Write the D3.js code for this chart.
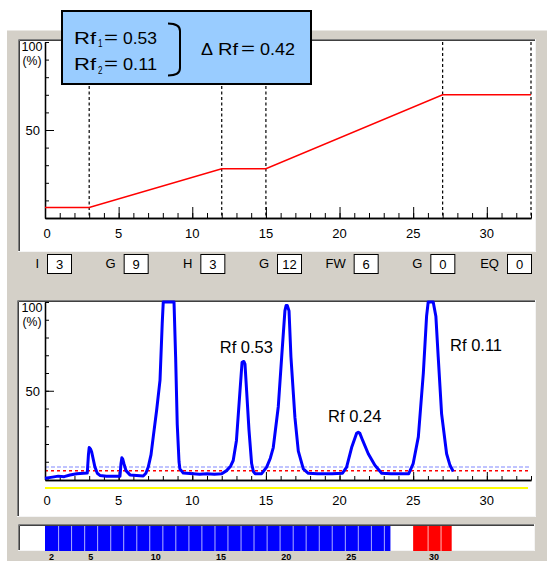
<!DOCTYPE html>
<html><head><meta charset="utf-8">
<script src="https://cdn.jsdelivr.net/npm/d3@7"></script>
<style>
body{margin:0;background:#fff}
svg{display:block}
text{font-family:'Liberation Sans',Arial,'Noto Sans CJK JP',sans-serif;fill:#000}
</style>
</head><body>
<svg id="c" width="547" height="561"></svg>
<script>
// ---------- DATA ----------
const stepNames = ["I","G","H","G","FW","G","EQ"];
const stepMinutes = [3,9,3,12,6,0,0];
const gradTime = [0,3,12,15,27,33];
const gradPct  = [6,6,28,28,70,70];
const xTickLabels = [0,5,10,15,20,25,30];
const yTickLabels = [50];
const rf1 = 0.53, rf2 = 0.11, deltaRf = 0.42;

const chromTime = [0,0.4,0.9,1.3,1.7,2.15,2.87,2.95,3.0,3.1,3.17,3.39,3.55,3.73,4.18,5.09,5.16,5.22,5.28,5.36,5.5,5.77,6.67,6.85,7.01,7.2,7.35,7.58,7.81,7.96,8.03,8.76,8.87,8.98,9.1,9.16,9.39,10.5,11.0,11.5,12.0,12.33,12.6,12.78,13.0,13.24,13.38,13.5,13.58,13.69,13.85,14.03,14.15,14.26,14.71,15.05,15.3,15.5,15.84,16.07,16.29,16.37,16.45,16.57,16.7,16.97,17.2,17.54,17.88,18.5,19.5,20.2,20.48,20.82,21.16,21.27,21.38,21.57,21.95,22.4,22.86,23.5,24.7,25.0,25.35,25.69,25.91,26.02,26.36,26.54,26.7,26.93,27.27,27.5,27.72];
const chromPct  = [0.7,1.2,1.9,1.6,2.5,3.2,3.6,14,18,17,15.5,7,3.5,2.3,1.8,1.8,8.9,12.2,11.5,8.9,5,2.6,2,3.5,7,14,24,39,56,88,100,100,69,31,10,6,3.6,3,3.2,3,3.2,5,7.5,10.7,22,50,66,66.5,65,50,28,9,4.5,3.3,3.3,7,12,18,41,69,95,98,98,95,69,35,16,6,3.5,3.3,3.3,3.5,7,18,26,26.6,26,22,14.5,8,3.5,3.3,3.3,9,24,60,92,100,100,92,69,37,14.5,8,4.5];
const thresholdPct = [7,5];
const rfLabels = ["Rf 0.53","Rf 0.24","Rf 0.11"];
const rfLabelTime = [13.67,21.03,29.27];
const rfLabelPct  = [71.5,32.5,72.5];

const tubeNo    = [2,3,4,5,6,7,8,9,10,11,12,13,14,15,16,17,18,19,20,21,22,23,24,25,26,27,28,29,30,31];
const tubeStart = [0,0.89,1.77,2.66,3.54,4.43,5.31,6.20,7.08,7.97,8.85,9.74,10.62,11.51,12.39,13.28,14.16,15.05,15.93,16.82,17.70,18.59,19.47,20.36,21.24,22.13,23.01,25.0,25.98,26.86];
const tubeEnd   = [0.89,1.77,2.66,3.54,4.43,5.31,6.20,7.08,7.97,8.85,9.74,10.62,11.51,12.39,13.28,14.16,15.05,15.93,16.82,17.70,18.59,19.47,20.36,21.24,22.13,23.01,23.45,25.98,26.86,27.61];
const tubeGroup = ["auto","auto","auto","auto","auto","auto","auto","auto","auto","auto","auto","auto","auto","auto","auto","auto","auto","auto","auto","auto","auto","auto","auto","auto","auto","auto","auto","peak","peak","peak"];
const tubeLabelNo = [2,5,10,15,20,25,30];

// ---------- DRAW ----------
const svg = d3.select("#c");
const gray = "#d4d0c8";
svg.append("rect").attr("x",7).attr("y",30.5).attr("width",540).attr("height",531).attr("fill",gray);

function panel(x,y,w,h){
  svg.append("rect").attr("x",x).attr("y",y).attr("width",w).attr("height",h).attr("fill","#fff");
  svg.append("path").attr("d",`M${x+0.5},${y+h}V${y+0.5}H${x+w}`).attr("stroke","#808080").attr("fill","none");
  svg.append("path").attr("d",`M${x+1.5},${y+h-1}V${y+1.5}H${x+w-1}`).attr("stroke","#404040").attr("fill","none");
  svg.append("path").attr("d",`M${x+w-0.5},${y}V${y+h-0.5}H${x}`).attr("stroke","#f4f4f4").attr("fill","none");
}
panel(18,39,518,213);
panel(17,300,519,217);
panel(18,524,517,27);

const x = d3.scaleLinear([0,33],[45,531]);
const yTop = d3.scaleLinear([0,100],[218,42]);
const yBot = d3.scaleLinear([0,100],[479.5,302]);

// ---- top chart ----
const cum = d3.cumsum(stepMinutes);
const vlines = Array.from(new Set(Array.from(cum)));
svg.append("g").selectAll("line").data(vlines).join("line")
  .attr("x1",d=>x(d)).attr("x2",d=>x(d)).attr("y1",yTop(100)).attr("y2",yTop(0))
  .attr("stroke","#000").attr("stroke-width",1.2).attr("stroke-dasharray","3,2.5");

function axes(yS, axisY, minorX, majorX, labelY, ylab100){
  const gx = svg.append("g").attr("transform",`translate(0,${axisY})`);
  gx.call(d3.axisTop(x).tickValues(d3.range(0,34)).tickSize(minorX).tickSizeOuter(0).tickFormat(""));
  gx.append("g").call(d3.axisTop(x).tickValues(xTickLabels).tickSize(majorX).tickSizeOuter(0).tickFormat(""));
  gx.selectAll("path,line").attr("stroke","#000");
  gx.selectAll("path.domain").attr("stroke-width",1.3);
  svg.append("g").selectAll("text").data(xTickLabels).join("text")
    .attr("x",d=>x(d)+(d===0?2:0)).attr("y",labelY).attr("text-anchor","middle")
    .attr("font-size",13).text(d=>d);
  const gy = svg.append("g").attr("transform",`translate(45,0)`);
  gy.call(d3.axisRight(yS).tickValues(d3.range(0,101,10)).tickSize(4).tickSizeOuter(0).tickFormat(""));
  gy.append("g").call(d3.axisRight(yS).tickValues(yTickLabels).tickSize(9).tickSizeOuter(0).tickFormat(""));
  gy.selectAll("path,line").attr("stroke","#000");
  gy.selectAll("path.domain").attr("stroke-width",1.3);
  svg.append("text").attr("x",32).attr("y",yS(100)+ylab100[0]).attr("text-anchor","middle").attr("font-size",12)
    .attr("textLength",21).attr("lengthAdjust","spacingAndGlyphs").text("100");
  svg.append("text").attr("x",32).attr("y",yS(100)+ylab100[1]).attr("text-anchor","middle").attr("font-size",12)
    .attr("textLength",19).attr("lengthAdjust","spacingAndGlyphs").text("(%)");
  svg.append("g").selectAll("text").data(yTickLabels).join("text")
    .attr("x",40).attr("y",d=>yS(d)+5).attr("text-anchor","end").attr("font-size",13).text(d=>d);
}
axes(yTop, 218, 5, 11, 238, [9,23]);

svg.append("path").datum(gradTime.map((t,i)=>[t,gradPct[i]]))
  .attr("d",d3.line().x(d=>x(d[0])).y(d=>yTop(d[1])))
  .attr("fill","none").attr("stroke","#ff0000").attr("stroke-width",1.5);

// ---- step row ----
const sx = d3.scalePoint().domain(d3.range(stepNames.length)).range([47,507]);
const row = svg.append("g");
stepNames.forEach((n,i)=>{
  row.append("text").attr("x",sx(i)-8).attr("y",268).attr("text-anchor","end").attr("font-size",13)
    .attr("fill","#222").text(n);
  row.append("rect").attr("x",sx(i)+0.5).attr("y",254.5).attr("width",24).attr("height",19)
    .attr("fill","#fff").attr("stroke","#000");
  row.append("text").attr("x",sx(i)+12.5).attr("y",269).attr("text-anchor","middle").attr("font-size",13).text(stepMinutes[i]);
});

// ---- bottom chart ----
svg.append("g").selectAll("line").data(thresholdPct).join("line")
  .attr("x1",x(0)).attr("x2",530).attr("y1",d=>yBot(d)).attr("y2",d=>yBot(d))
  .attr("stroke",(d,i)=>i===0?"#aab0ff":"#ff0000").attr("stroke-width",1.5)
  .attr("stroke-dasharray",(d,i)=>i===0?"4,2":"3,3");
axes(yBot, 480, 4, 8, 505, [10,24]);
svg.append("line").attr("x1",x(0)).attr("x2",528).attr("y1",488).attr("y2",488)
  .attr("stroke","#ffff00").attr("stroke-width",2.2);
svg.append("path").datum(chromTime.map((t,i)=>[t,chromPct[i]]))
  .attr("d",d3.line().x(d=>x(d[0])).y(d=>yBot(d[1])))
  .attr("fill","none").attr("stroke","#0000ff").attr("stroke-width",3).attr("stroke-linejoin","round");
svg.append("g").selectAll("text").data(rfLabels).join("text")
  .attr("x",(d,i)=>x(rfLabelTime[i])).attr("y",(d,i)=>yBot(rfLabelPct[i])).attr("text-anchor","middle")
  .attr("font-size",16.5).text(d=>d);

// ---- fraction bar ----
const fy0 = 526, fy1 = 551;
const tubes = tubeNo.map((n,i)=>({n,s:tubeStart[i],e:tubeEnd[i],g:tubeGroup[i]}));
const fill = {auto:"#0000ff",peak:"#ff0000"};
const sep = {auto:"#a8a8ff",peak:"#ffb0b0"};
svg.append("g").selectAll("rect.bg").data(tubes).join("rect")
  .attr("x",d=>x(d.s)).attr("y",fy0).attr("width",d=>x(d.e)-x(d.s)).attr("height",fy1-fy0)
  .attr("fill",d=>sep[d.g]);
svg.append("g").selectAll("rect.fg").data(tubes).join("rect")
  .attr("x",d=>x(d.s)+(d.n===2||d.n===29?0:1)).attr("y",fy0)
  .attr("width",d=>x(d.e)-x(d.s)-(d.n===2||d.n===29?0:1)).attr("height",fy1-fy0)
  .attr("fill",d=>fill[d.g]);
svg.append("g").selectAll("text").data(tubes.filter(d=>tubeLabelNo.includes(d.n))).join("text")
  .attr("x",d=>x((d.s+d.e)/2)).attr("y",559.5).attr("text-anchor","middle")
  .attr("font-size",9).attr("font-weight","bold").attr("fill","#222").text(d=>d.n);

// ---- info box ----
const box = svg.append("g");
box.append("rect").attr("x",62).attr("y",11).attr("width",249).attr("height",73)
  .attr("fill","#99ccff").attr("stroke","#000").attr("stroke-width",2);
function piece(xp, yb, txt, len, fs){
  box.append("text").attr("x",xp).attr("y",yb).attr("font-size",fs||17)
    .attr("textLength",len).attr("lengthAdjust","spacingAndGlyphs").text(txt);
}
function eqBar(x0, yb){
  box.append("text").attr("x",x0).attr("y",yb).attr("font-size",17)
    .style("font-family","'Noto Sans CJK JP',sans-serif")
    .attr("textLength",16).attr("lengthAdjust","spacingAndGlyphs").text("＝");
}
function rfLine(yb, sub, val){
  piece(74, yb, "Rf", 22);
  piece(98, yb+3.5, sub, 4.5, 10);
  eqBar(103, yb);
  piece(123, yb, val, 34);
}
rfLine(43.5,"1",rf1.toFixed(2));
rfLine(70,"2",rf2.toFixed(2));
box.append("path").attr("d","M168,23.5 Q180,23.5 180,31 L180,68 Q180,75.5 168,75.5")
  .attr("fill","none").attr("stroke","#000").attr("stroke-width",2);
piece(201, 55, "Δ", 12);
piece(218, 55, "Rf", 20);
eqBar(240, 55);
piece(260, 55, deltaRf.toFixed(2), 35);
</script>
</body></html>
